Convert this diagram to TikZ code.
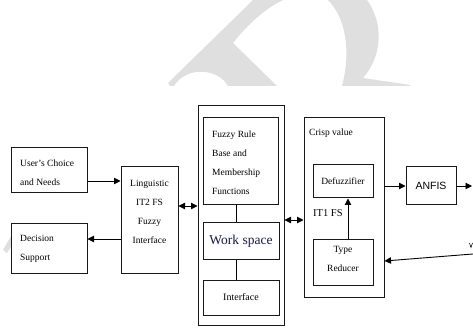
\documentclass[tikz,border=0pt]{standalone}
\usepackage{fontspec}
\setmainfont{Liberation Serif}
\newfontfamily\anfisfont{Liberation Sans}
\usetikzlibrary{arrows.meta,calc}
\definecolor{markgray}{gray}{0.875}
\definecolor{wsblue}{rgb}{0.1,0.1,0.27}

\begin{document}
\begin{tikzpicture}[x=1pt,y=-1pt,
		box/.style={draw=black!90, line width=1pt, inner sep=0pt},
		txt/.style={inner sep=0pt, font=\fontsize{9.5}{19}\selectfont},
		arr/.style={line width=0.9pt, -{Triangle[length=6.5pt,width=6.5pt]}},
		twoway/.style={line width=0.9pt, {Triangle[length=6.5pt,width=6.5pt]}-{Triangle[length=6.5pt,width=6.5pt]}}]
		%%%%% START %%%%%
		\useasboundingbox (0,0) rectangle (473,336);
		
		% faint letter behind the top of the chart
		\fill[markgray] (168,83) -- (253,0) -- (283,0) .. controls (262,10) and (244,29) .. (233,43) -- (277,86) -- (228,86) .. controls (218,68) and (186,66) .. (174,86) -- (170,86) -- cycle;
		\fill[markgray] (328,0) -- (367,0) .. controls (385,25) and (381,58) .. (363,78) -- (410,85) -- (410,86) -- (342,86) .. controls (351,52) and (346,18) .. (328,0) -- cycle;
		\fill[markgray] (3,250) -- (11,236) -- (11,247) -- (7,253) -- cycle;
		
		% left column
		\node[box, minimum width=76pt, minimum height=45pt] (users) at (49,170.5) {};
		\node[txt, anchor=west, align=left] (userstxt) at (20,173) {User's Choice\\and Needs};
		\node[box, minimum width=76pt, minimum height=49pt] (decision) at (49,248.5) {};
		\node[txt, anchor=west, align=left] (decisiontxt) at (20,249) {Decision\\Support};
		
		\node[box, minimum width=57pt, minimum height=106pt] (ling) at (149.5,220) {};
		\node[txt, align=center] (lingtxt) at (149.5,211.5) {Linguistic\\IT2 FS\\Fuzzy\\Interface};
		
		% rule base block
		\node[box, minimum width=86pt, minimum height=219pt] (rules) at (241,215.5) {};
		\node[box, minimum width=75pt, minimum height=87pt] (rulebase) at (240.5,161.5) {};
		\node[txt, anchor=west, align=left] (rulebasetxt) at (212,162.5) {Fuzzy Rule\\Base and\\Membership\\Functions};
		\node[box, minimum width=76pt, minimum height=37pt, text=wsblue, font=\fontsize{13.5}{16}\selectfont] (workspace) at (241,241.5) {Work space};
		\node[box, minimum width=76pt, minimum height=35pt, font=\fontsize{10}{12}\selectfont] (interface) at (241,297.5) {Interface};
		\draw[line width=0.9pt] (rulebase.south -| 236,0) -- (workspace.north -| 236,0);
		\draw[line width=0.9pt] (workspace.south -| 236,0) -- (interface.north -| 236,0);
		
		% output block
		\node[box, minimum width=80pt, minimum height=179pt] (crisp) at (344,207.5) {};
		\node[txt, anchor=west] (crisptxt) at (309,133) {Crisp value};
		\node[box, minimum width=60pt, minimum height=33pt, txt] (defuzz) at (343,181.5) {Defuzzifier};
		\node[box, minimum width=60pt, minimum height=45pt] (reducer) at (343,262.5) {};
		\node[txt, align=center] (reducertxt) at (343,258.5) {Type\\Reducer};
		\node[inner sep=0pt, anchor=west, font=\fontsize{10.5}{12}\selectfont] (it1) at (313,213) {IT1 FS};
		\draw[arr] (reducer.north -| 348,0) -- (defuzz.south -| 348,0);
		
		\node[box, minimum width=50pt, minimum height=38pt, font=\anfisfont\fontsize{10.5}{12}\selectfont] (anfis) at (431,186) {ANFIS};
		
		% connectors
		\coordinate (out) at (472,186);
		\coordinate (back) at (473,254);
		\draw[arr] (users.east |- 0,181) -- (ling.west |- 0,181);
		\draw[arr] (ling.west |- 0,239) -- (decision.east |- 0,239);
		\draw[twoway] (ling.east |- 0,206) -- (rules.west |- 0,206);
		\draw[twoway] (rules.east |- 0,220) -- (crisp.west |- 0,220);
		\draw[arr] (crisp.east |- anfis.west) -- (anfis.west);
		\draw[arr] (anfis.east) -- (out);
		\draw[arr] (back) -- (crisp.east |- 0,261);
		\draw[line width=0.6pt] (469.5,243) -- (471,247.5) -- (472.5,243);
		%%%%% END %%%%%
\end{tikzpicture}
\end{document}
